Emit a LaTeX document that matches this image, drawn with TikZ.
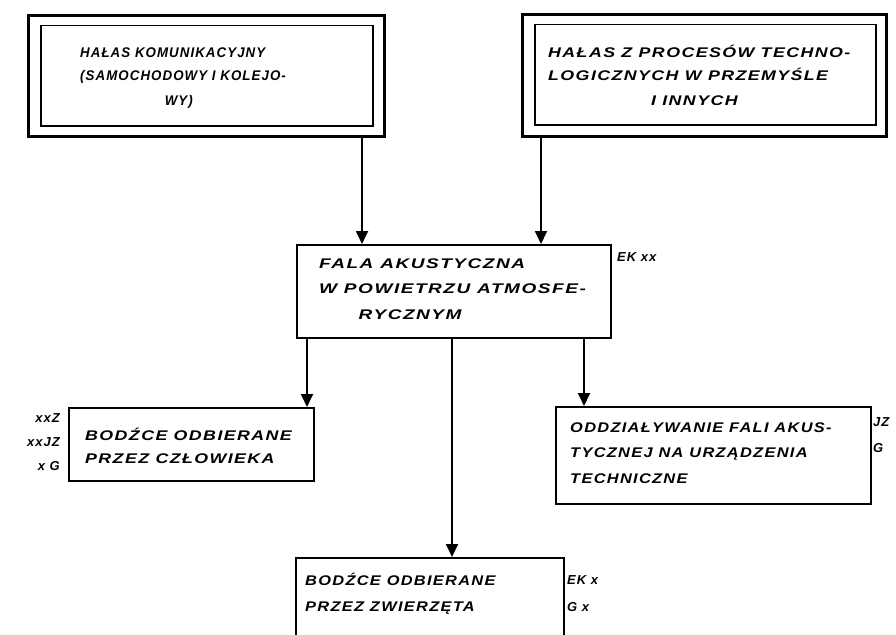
\documentclass[tikz,border=0pt]{standalone}
\usepackage{fontspec}
\usepackage{graphicx}
\usetikzlibrary{arrows.meta}
\newfontfamily\hw{Liberation Sans}[LetterSpace=8]
% #1 horizontal stretch, #2 line pitch, #3 lines
\newcommand\hwlines[3]{\scalebox{#1}[1]{\fontsize{14}{#2}\selectfont\begin{tabular}[t]{@{}l@{}}#3\end{tabular}}}

\tikzset{
  box/.style={draw, line width=1.8pt, inner sep=0pt, anchor=north west},
  outerframe/.style={draw, line width=2.8pt, inner sep=0pt, anchor=north west},
  innerframe/.style={draw, line width=1.5pt, inner sep=0pt, anchor=north west},
  txt/.style={inner sep=0pt, anchor=base west, font=\hw\bfseries\itshape},
  sidenote/.style={inner sep=0pt, font=\hw\bfseries\itshape\fontsize{13}{15}\selectfont},
  arr/.style={line width=1.8pt, -{Triangle[length=13pt,width=12pt]}}
}

\begin{document}
\begin{tikzpicture}[x=1pt, y=-1pt]
\useasboundingbox (0,0) rectangle (896,634);
\clip (0,0) rectangle (896,634);
\fill[white] (0,0) rectangle (896,634);

% source boxes (double frame)
\node[outerframe, minimum width=356pt, minimum height=121pt] (tl) at (27,14) {};
\node[innerframe, minimum width=332pt, minimum height=100pt] (tlin) at (40,25) {};
\node[txt] (tltext) at (80,57) {\hwlines{0.95}{24}{HAŁAS KOMUNIKACYJNY\\(SAMOCHODOWY I KOLEJO-\\\hspace*{89pt}WY)}};

\node[outerframe, minimum width=364pt, minimum height=122pt] (tr) at (521,13) {};
\node[innerframe, minimum width=341pt, minimum height=100pt] (trin) at (534,24) {};
\node[txt] (trtext) at (548,57) {\hwlines{1.27}{24}{HAŁAS Z PROCESÓW TECHNO-\\LOGICZNYCH W PRZEMYŚLE\\\hspace*{81pt}I INNYCH}};

% acoustic wave
\node[box, minimum width=314pt, minimum height=93pt] (c) at (296,244) {};
\node[txt] (ctext) at (319,268) {\hwlines{1.36}{25.5}{FALA AKUSTYCZNA\\W POWIETRZU ATMOSFE-\\\hspace*{29pt}RYCZNYM}};
\node[sidenote, anchor=base west] (cm) at (617,261) {EK xx};

% effects
\node[box, minimum width=245pt, minimum height=73pt] (l) at (68,407) {};
\node[txt] (ltext) at (85,440) {\hwlines{1.27}{23}{BODŹCE ODBIERANE\\PRZEZ CZŁOWIEKA}};
\node[sidenote, anchor=base east] (lm1) at (60,422) {xxZ};
\node[sidenote, anchor=base east] (lm2) at (60,446) {xxJZ};
\node[sidenote, anchor=base east] (lm3) at (60,470) {x G};

\node[box, minimum width=315pt, minimum height=97pt] (r) at (555,406) {};
\node[txt] (rtext) at (570,432) {\hwlines{1.17}{25.5}{ODDZIAŁYWANIE FALI AKUS-\\TYCZNEJ NA URZĄDZENIA\\TECHNICZNE}};
\node[sidenote, anchor=base west] (rm1) at (873,426) {JZ};
\node[sidenote, anchor=base west] (rm2) at (873,452) {G};

\node[box, minimum width=268pt, minimum height=100pt] (b) at (295,557) {};
\node[txt] (btext) at (305,585) {\hwlines{1.17}{26}{BODŹCE ODBIERANE\\PRZEZ ZWIERZĘTA}};
\node[sidenote, anchor=base west] (bm1) at (567,584) {EK x};
\node[sidenote, anchor=base west] (bm2) at (567,611) {G x};

% connector columns
\coordinate (x1) at (362,0);
\coordinate (x2) at (541,0);
\coordinate (x3) at (307,0);
\coordinate (x4) at (452,0);
\coordinate (x5) at (584,0);

\draw[arr] (tl.south -| x1) -- (c.north -| x1);
\draw[arr] (tr.south -| x2) -- (c.north -| x2);
\draw[arr] (c.south -| x3) -- (l.north -| x3);
\draw[arr] (c.south -| x4) -- (b.north -| x4);
\draw[arr] (c.south -| x5) -- (r.north -| x5);
\end{tikzpicture}
\end{document}
